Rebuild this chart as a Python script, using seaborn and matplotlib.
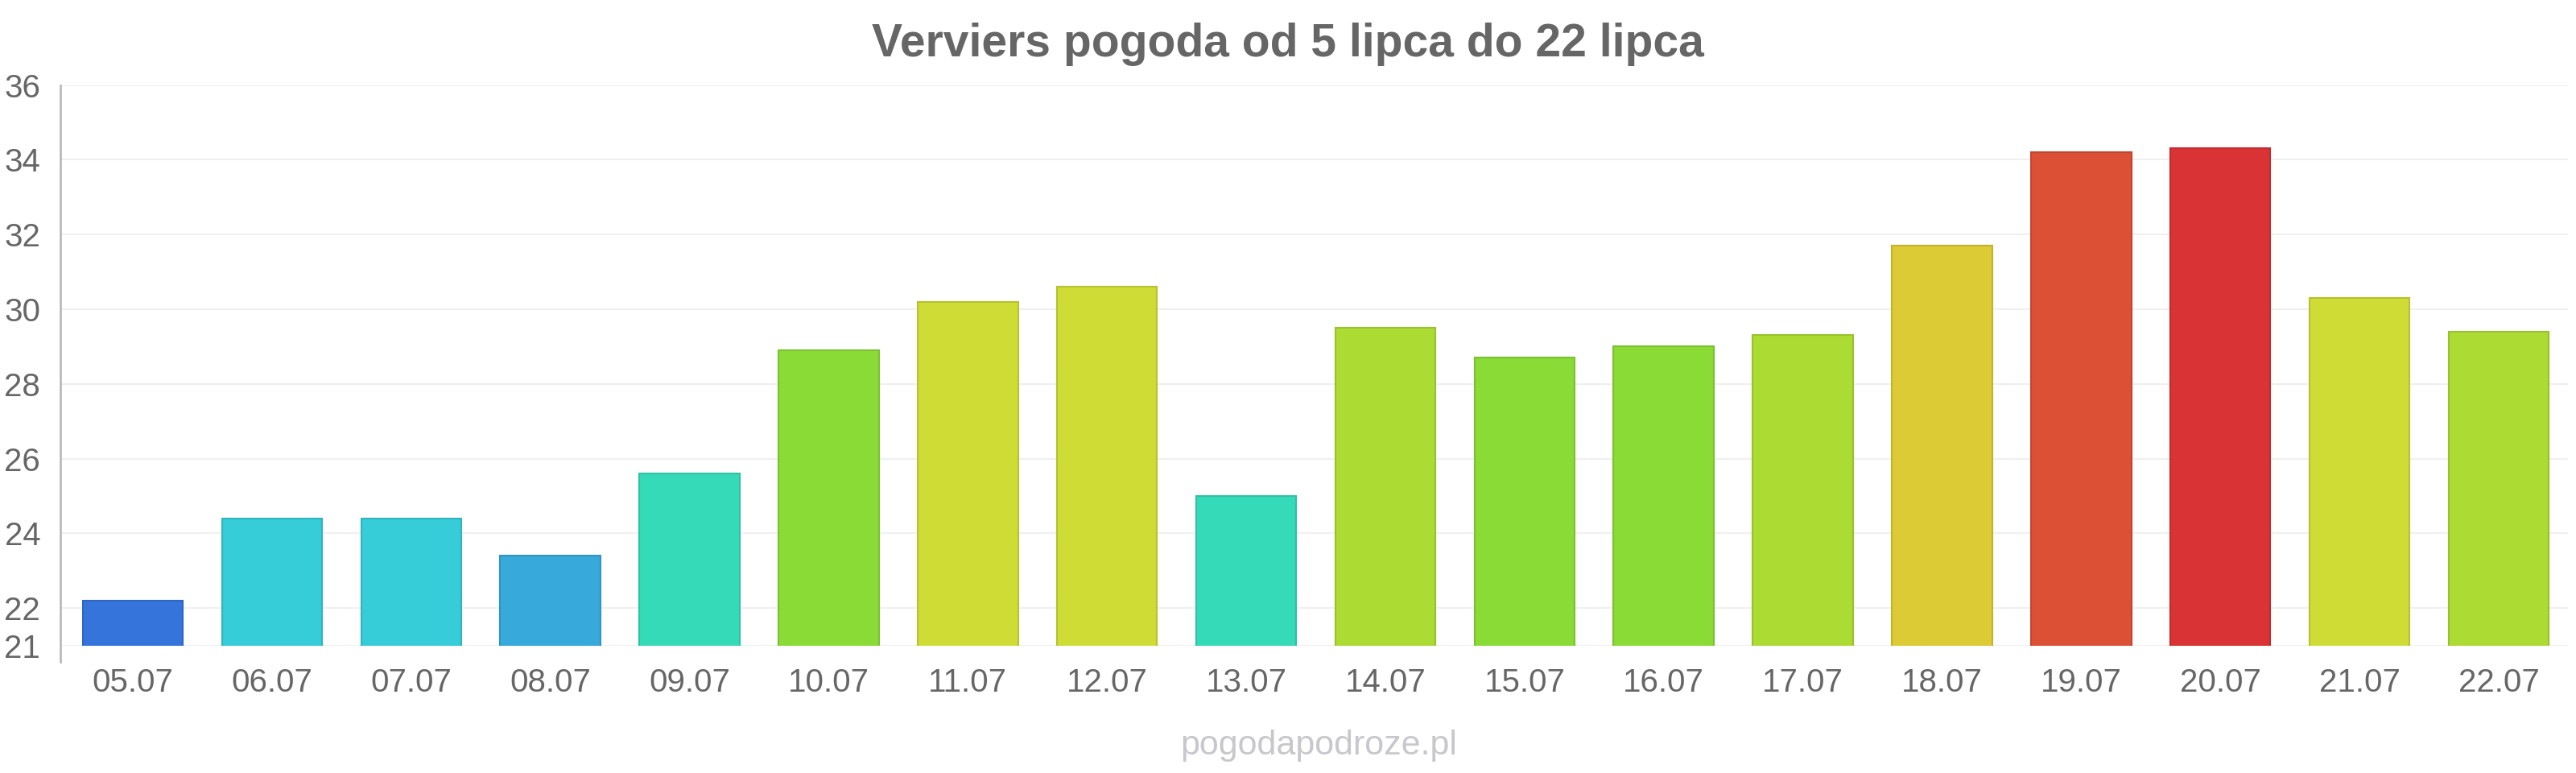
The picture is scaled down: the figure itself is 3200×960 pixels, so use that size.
import matplotlib
matplotlib.use("Agg")
import matplotlib.pyplot as plt
import matplotlib.colors as mcolors
import seaborn as sns
import pandas as pd

days = ["05.07", "06.07", "07.07", "08.07", "09.07", "10.07", "11.07", "12.07", "13.07",
        "14.07", "15.07", "16.07", "17.07", "18.07", "19.07", "20.07", "21.07", "22.07"]
temps = [22.2, 24.4, 24.4, 23.4, 25.6, 28.9, 30.2, 30.6, 25.0,
         29.5, 28.7, 29.0, 29.3, 31.7, 34.2, 34.3, 30.3, 29.4]
bar_colors = ["#3474DB", "#36CDD9", "#36CDD9", "#37A9DB", "#35DBB9", "#8BDB36", "#CFDC35",
              "#CFDC35", "#35DBB9", "#ACDC33", "#8BDB36", "#8BDB36", "#ACDC33", "#DCCB34",
              "#DC5035", "#DA3336", "#CFDC35", "#ACDC33"]
y_ticks = [21, 22, 24, 26, 28, 30, 32, 34, 36]

title = "Verviers pogoda od 5 lipca do 22 lipca"
watermark = "pogodapodroze.pl"

sns.set_style("white")
plt.rcParams['font.family'] = ['Liberation Sans', 'DejaVu Sans']

df = pd.DataFrame({"day": days, "temp": temps})

fig, ax = plt.subplots(figsize=(32, 9.6), dpi=100)
fig.subplots_adjust(left=0.0235, right=0.997, bottom=0.165, top=0.89)

sns.barplot(data=df, x="day", y="temp", hue="day", palette=dict(zip(days, bar_colors)),
            order=days, width=0.72, legend=False, saturation=1, ax=ax)

# slightly darker outline on each bar, like the original
for patch, c in zip(ax.patches, bar_colors):
    rgb = mcolors.to_rgb(c)
    patch.set_edgecolor(tuple(v * 0.88 for v in rgb))
    patch.set_linewidth(1.5)

ax.set_ylim(21, 36)
ax.set_xlim(-0.52, 17.5)
ax.set_yticks(y_ticks)
ax.yaxis.grid(True, color="#F0F0F0", linewidth=1.5)
ax.set_axisbelow(True)

for s in ["top", "right", "bottom"]:
    ax.spines[s].set_visible(False)
ax.spines["left"].set_color("#BBBBBB")
ax.spines["left"].set_linewidth(2)
ax.spines["left"].set_bounds(20.55, 36)

ax.tick_params(axis="y", labelsize=29, labelcolor="#666666", length=0, pad=18)
ax.tick_params(axis="x", labelsize=29, labelcolor="#666666", length=0, pad=20)
ax.set_xlabel("")
ax.set_ylabel("")

fig.text(0.5, 0.943, title, ha="center", va="center", fontsize=41, fontweight="bold", color="#666666")
fig.text(0.512, 0.035, watermark, ha="center", va="center", fontsize=31, color="#C8C8CC")

plt.savefig("out.png", dpi=100)
